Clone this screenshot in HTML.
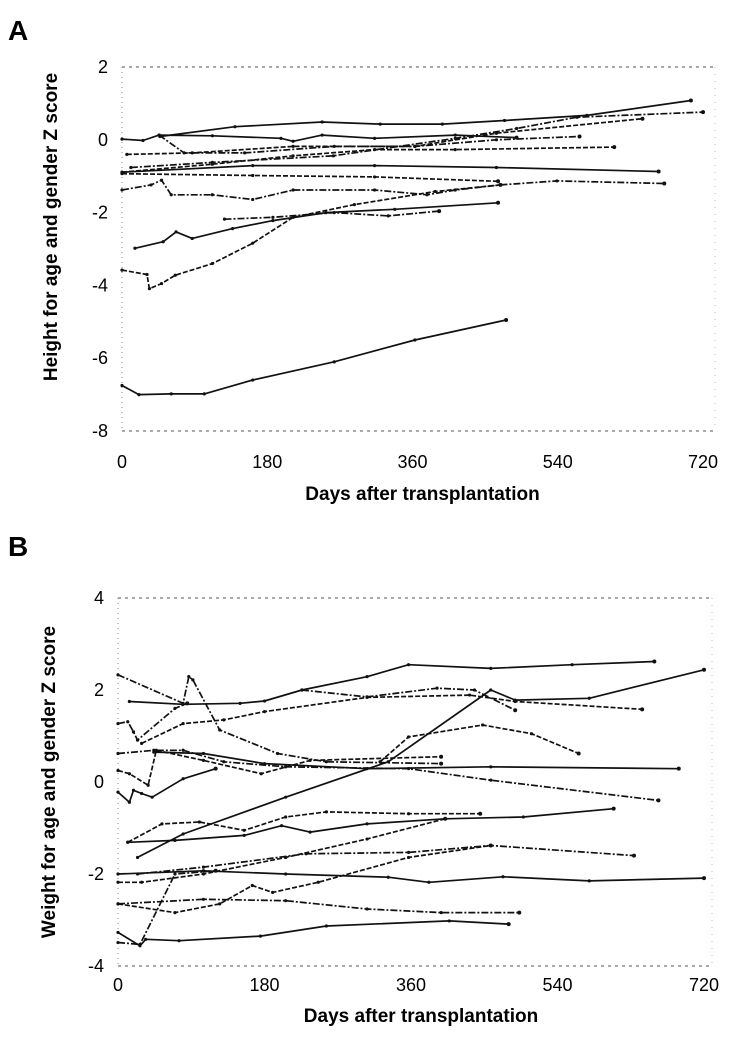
<!DOCTYPE html>
<html><head><meta charset="utf-8"><style>
html,body{margin:0;padding:0;background:#fff;}
svg{display:block;font-family:"Liberation Sans",Arial,sans-serif;}
</style></head><body>
<svg id="chart" width="731" height="1050" viewBox="0 0 731 1050">
<text x="8" y="40" font-size="28" font-weight="bold">A</text>
<text x="8" y="556" font-size="28" font-weight="bold">B</text>
<g id="pa"></g>
<g id="pb"></g>
</svg>
<script>
const xTicks = [0, 180, 360, 540, 720];
const yTicksA = [2, 0, -2, -4, -6, -8];
const yTicksB = [4, 2, 0, -2, -4];
const heightSeries = [
 [[47,0.09],[140,0.36],[248,0.49],[320,0.43],[397,0.43],[474,0.53],[576,0.67],[705,1.08]],
 [[11,-0.76],[112,-0.62],[262,-0.44],[413,0.04],[489,0.31],[564,0.62],[720,0.76]],
 [[6,-0.4],[87,-0.36],[212,-0.18],[363,-0.18],[464,0.18],[645,0.58]],
 [[0,0.02],[26,-0.02],[46,0.13],[112,0.11],[197,0.04],[212,-0.04],[248,0.13],[313,0.04],[413,0.13],[489,0.06]],
 [[46,0.13],[77,-0.36],[152,-0.36],[263,-0.18],[363,-0.18],[464,0],[567,0.09]],
 [[0,-0.89],[112,-0.67],[212,-0.44],[313,-0.27],[413,-0.27],[610,-0.2]],
 [[0,-0.89],[162,-0.71],[313,-0.71],[464,-0.76],[665,-0.87]],
 [[0,-1.38],[36,-1.24],[49,-1.11],[61,-1.51],[112,-1.51],[162,-1.64],[212,-1.38],[313,-1.38],[378,-1.51],[413,-1.38],[469,-1.24],[539,-1.13],[672,-1.2]],
 [[0,-0.93],[162,-0.98],[313,-1.02],[466,-1.14]],
 [[16,-2.98],[51,-2.8],[67,-2.53],[87,-2.71],[137,-2.44],[187,-2.22],[253,-2.0],[338,-1.91],[466,-1.73]],
 [[127,-2.18],[187,-2.13],[263,-2.0],[330,-2.09],[393,-1.96]],
 [[0,-3.58],[31,-3.7],[34,-4.09],[49,-3.95],[66,-3.72],[112,-3.4],[162,-2.84],[212,-2.13],[288,-1.78],[388,-1.42],[469,-1.24]],
 [[0,-6.75],[21,-7.0],[61,-6.98],[102,-6.98],[162,-6.6],[263,-6.1],[363,-5.5],[476,-4.95]]
];
const weightSeries = [
 [[14,1.75],[80,1.69],[150,1.71],[180,1.76],[226,2.0],[306,2.29],[357,2.55],[458,2.47],[558,2.55],[659,2.62]],
 [[226,2.0],[306,1.85],[392,2.04],[438,2.0],[488,1.56]],
 [[29,0.84],[80,1.27],[130,1.35],[180,1.53],[306,1.84],[432,1.89],[488,1.75],[644,1.58]],
 [[24,-1.64],[80,-1.13],[206,-0.33],[332,0.44],[458,2.0],[488,1.78],[579,1.82],[720,2.44]],
 [[0,2.33],[80,1.71],[87,2.29],[92,2.22],[125,1.13],[196,0.62],[256,0.44],[397,0.4]],
 [[322,0.44],[357,0.98],[448,1.24],[508,1.05],[566,0.62]],
 [[44,0.65],[105,0.62],[180,0.4],[306,0.29],[458,0.33],[689,0.29]],
 [[0,0.62],[44,0.69],[80,0.69],[130,0.44],[206,0.33],[357,0.29],[458,0.04],[664,-0.4]],
 [[0,0.25],[14,0.18],[37,-0.07],[47,0.69],[105,0.47],[176,0.18],[236,0.47],[397,0.55]],
 [[0,-0.22],[14,-0.44],[19,-0.18],[29,-0.25],[42,-0.33],[80,0.07],[120,0.29]],
 [[0,1.27],[12,1.31],[19,1.09],[24,0.91],[70,1.6],[85,1.71]],
 [[12,-1.31],[54,-0.91],[100,-0.87],[155,-1.05],[206,-0.76],[256,-0.65],[357,-0.69],[445,-0.69]],
 [[12,-1.31],[70,-1.27],[155,-1.16],[201,-0.95],[236,-1.09],[306,-0.91],[402,-0.8],[498,-0.76],[609,-0.58]],
 [[24,-2.0],[105,-1.85],[231,-1.56],[357,-1.53],[458,-1.38],[634,-1.6]],
 [[0,-2.18],[29,-2.18],[105,-2.0],[206,-1.64],[306,-1.24],[402,-0.8]],
 [[0,-2.0],[105,-1.93],[206,-2.0],[332,-2.07],[382,-2.18],[473,-2.06],[579,-2.15],[720,-2.09]],
 [[0,-2.65],[105,-2.55],[206,-2.58],[306,-2.76],[397,-2.84],[493,-2.84]],
 [[0,-2.65],[70,-2.84],[125,-2.65],[165,-2.25],[190,-2.4],[246,-2.18],[357,-1.64],[458,-1.38]],
 [[0,-3.27],[27,-3.56],[34,-3.42],[75,-3.45],[175,-3.35],[256,-3.13],[407,-3.02],[480,-3.09]],
 [[0,-3.49],[27,-3.53],[70,-2.0],[120,-1.93]]
];
const NS='http://www.w3.org/2000/svg';
function mk(tag, attrs, parent){const e=document.createElementNS(NS,tag);for(const k in attrs)e.setAttribute(k,attrs[k]);parent.appendChild(e);return e;}
function panel(g, cfg){
 const sx=d=>cfg.x0+(d-0)/720*(cfg.x1-cfg.x0);
 const sy=v=>cfg.y0+(cfg.ymax-v)/(cfg.ymax-cfg.ymin)*(cfg.y1-cfg.y0);
 let e;
 e=mk('line',{x1:sx(0),x2:cfg.xr,y1:sy(cfg.ymax),y2:sy(cfg.ymax),stroke:'#777','stroke-width':1.2,'stroke-dasharray':'3 4'},g);
 
 
 e=mk('line',{x1:sx(0),x2:cfg.xr,y1:sy(cfg.ymin),y2:sy(cfg.ymin),stroke:'#777','stroke-width':1.2,'stroke-dasharray':'3 4'},g);
 
 
 e=mk('line',{x1:sx(0),x2:sx(0),y1:sy(cfg.ymax),y2:sy(cfg.ymin),stroke:'#888','stroke-width':1,'stroke-dasharray':'1 4'},g);
 
 
 e=mk('line',{x1:cfg.xr,x2:cfg.xr,y1:sy(cfg.ymax),y2:sy(cfg.ymin),stroke:'#bbb','stroke-width':1,'stroke-dasharray':'1 6'},g);
 
 
 cfg.yt.forEach(v=>{
  const t=mk('text',{x:cfg.ylx,y:sy(v)+6,'text-anchor':'end','font-size':18},g);t.textContent=String(v);
  
  
 });
 xTicks.forEach(d=>{
  const t=mk('text',{x:sx(d),y:cfg.xly,'text-anchor':'middle','font-size':18},g);t.textContent=String(d);
  
  
 });
 let t=mk('text',{x:(cfg.x0+cfg.x1)/2+10,y:cfg.xty,'text-anchor':'middle','font-size':19,'font-weight':'bold'},g);
 t.textContent='Days after transplantation';
 
 
 t=mk('text',{x:0,y:0,'text-anchor':'middle','font-size':19,'font-weight':'bold',transform:`translate(${cfg.ytx},${cfg.yty}) rotate(-90)`},g);
 t.textContent=cfg.ytitle;
 
 
 cfg.series.forEach((s,i)=>{
  const p=mk('polyline',{points:s.map(q=>sx(q[0]).toFixed(1)+','+sy(q[1]).toFixed(1)).join(' '),fill:'none',stroke:'#111','stroke-width':1.7,'stroke-dasharray':(i%3===0?'none':(i%3===1?'7 2 2 2':'5 2')),'stroke-linejoin':'round'},g);
  
  
  s.forEach((q,j)=>{
   const m=mk('circle',{cx:sx(q[0]),cy:sy(q[1]),r:(j===s.length-1?2.0:1.6),fill:'#111'},g);
   
   
  });
 });
}
panel(document.getElementById('pa'),{x0:122,x1:703,xr:715,y0:67,y1:431,ymax:2,ymin:-8,yt:yTicksA,ylx:108,xly:468,xty:500,ytx:57,yty:227,ytitle:'Height for age and gender Z score',series:heightSeries});
panel(document.getElementById('pb'),{x0:118,x1:704,xr:712,y0:598,y1:966,ymax:4,ymin:-4,yt:yTicksB,ylx:104,xly:991,xty:1022,ytx:55,yty:782,ytitle:'Weight for age and gender Z score',series:weightSeries});
</script>
</body></html>
